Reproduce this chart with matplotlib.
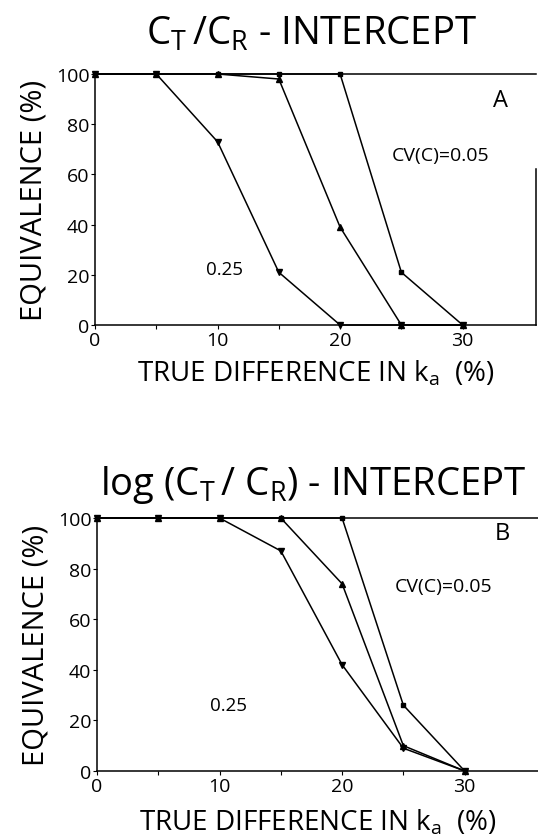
import matplotlib
matplotlib.use('Agg')
import matplotlib.pyplot as plt

plt.rcParams['font.family'] = ['Open Sans', 'DejaVu Sans']
plt.rcParams['mathtext.fontset'] = 'custom'
plt.rcParams['mathtext.rm'] = 'Open Sans'
plt.rcParams['mathtext.it'] = 'Open Sans'

diff = [0, 5, 10, 15, 20, 25, 30]

# panel A: C_T/C_R intercept
a_cv05 = [100, 100, 100, 100, 100, 21, 0]
a_mid = [100, 100, 100, 98, 39, 0, 0]
a_cv25 = [100, 100, 73, 21, 0, 0, 0]

# panel B: log(C_T/C_R) intercept
b_cv05 = [100, 100, 100, 100, 100, 26, 0]
b_mid = [100, 100, 100, 100, 74, 10, 0]
b_cv25 = [100, 100, 100, 87, 42, 9, 0]

xticks = [0, 10, 20, 30]
yticks = [0, 20, 40, 60, 80, 100]

fig = plt.figure(figsize=(5.38, 8.37), dpi=100)

def panel(rect, s05, smid, s25, title, tpad, letter, pos_letter, pos_cv, pos_25, right_spine, xpad):
    ax = fig.add_axes(rect)
    k = dict(color='black', linewidth=1.1, clip_on=False)
    ax.plot(diff, s05, marker='s', markersize=3.5, **k)
    ax.plot(diff, smid, marker='^', markersize=4, **k)
    ax.plot(diff, s25, marker='v', markersize=4, **k)
    ax.set_xlim(0, 36)
    ax.set_ylim(0, 100)
    ax.set_xticks(xticks)
    ax.set_xticks([5, 15, 25], minor=True)
    ax.set_yticks(yticks)
    ax.tick_params(which='both', direction='out', length=3, width=0.8, labelsize=14, pad=1)
    for s in ax.spines.values():
        s.set_linewidth(1.1)
    if right_spine:
        ax.spines['right'].set_bounds(0, 62)
    else:
        ax.spines['right'].set_visible(False)
    ax.set_xlabel(r'TRUE DIFFERENCE IN $\mathregular{k_a}$  (%)', fontsize=20, labelpad=xpad)
    ax.set_ylabel('EQUIVALENCE (%)', fontsize=21, labelpad=5)
    ax.set_title(title, fontsize=27.5, pad=tpad, x=0.49)
    ax.text(*pos_letter, letter, fontsize=17, ha='center', va='center')
    ax.text(*pos_cv, 'CV(C)=0.05', fontsize=14, ha='center', va='center')
    ax.text(*pos_25, '0.25', fontsize=13.5, ha='center', va='center')
    return ax

panel([0.1766, 0.6105, 0.82, 0.2999], a_cv05, a_mid, a_cv25,
      r'$\mathregular{C_T\,/C_R}$ - INTERCEPT', 22, 'A', (33.06, 89.6), (28.2, 67.7), (10.6, 22.3), True, 7)
panel([0.1803, 0.0777, 0.82, 0.3022], b_cv05, b_mid, b_cv25,
      r'log ($\mathregular{C_T\,/\;C_R}$) - INTERCEPT', 17, 'B', (33.06, 94), (28.3, 73), (10.7, 26), False, 9)

fig.savefig('out.png', dpi=100)
